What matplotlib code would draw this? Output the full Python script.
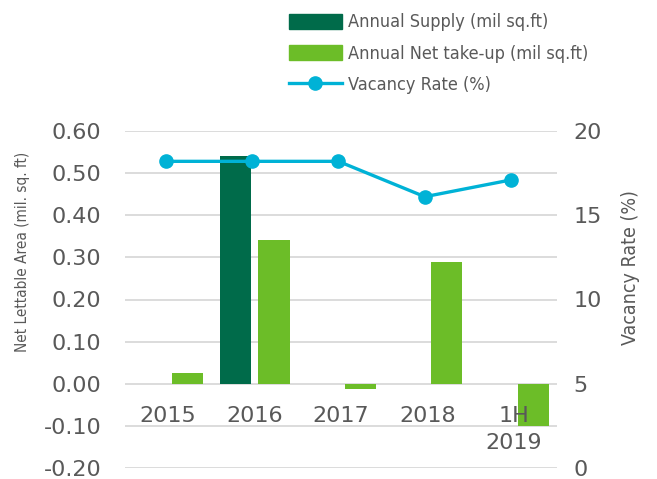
import matplotlib
matplotlib.use("Agg")
import matplotlib.pyplot as plt
import numpy as np
from matplotlib.lines import Line2D
from matplotlib.patches import Patch
from matplotlib.font_manager import FontProperties

categories = ["2015", "2016", "2017", "2018", "1H\n2019"]
annual_supply = [0.0, 0.54, 0.0, 0.0, 0.0]
net_takeup = [0.025, 0.342, -0.012, 0.29, -0.10]
vacancy_rate = [18.2, 18.2, 18.2, 16.1, 17.1]
left_ticks = [-0.20, -0.10, 0.00, 0.10, 0.20, 0.30, 0.40, 0.50, 0.60]
right_ticks = [0, 5, 10, 15, 20]

C_SUPPLY = "#006B4A"
C_NET = "#6CBD28"
C_LINE = "#00B2D6"
GRAY = "#595959"
TICK_FONT = "DejaVu Sans"

def narrow(size):
    return FontProperties(family="DejaVu Sans", stretch="condensed", size=size)

fig = plt.figure(figsize=(6.57, 4.79), dpi=100)
ax = fig.add_axes([125/657, 1-468/479, (557-125)/657, (468-131)/479])
ax2 = ax.twinx()

x = np.arange(len(categories))
w = 0.36
off = 0.225
ax.bar(x - off, annual_supply, width=w, color=C_SUPPLY, zorder=3)
ax.bar(x + off, net_takeup, width=w, color=C_NET, zorder=3)
ax2.plot(x - 0.03, vacancy_rate, color=C_LINE, lw=2.4, marker="o", ms=9.5, zorder=4)

ax.set_xlim(-0.5, len(categories) - 0.5)
ax.set_ylim(-0.2, 0.6)
ax.set_yticks(left_ticks)
ax.set_yticklabels([f"{t:.2f}" for t in left_ticks], fontsize=16, color=GRAY, family=TICK_FONT)
ax.grid(axis="y", color="#D9D9D9", lw=1.3, zorder=0)
ax.set_axisbelow(True)
ax.set_xticks([])
ax.tick_params(axis="y", length=0, pad=17)

ax2.set_ylim(0, 20)
ax2.set_yticks(right_ticks)
ax2.set_yticklabels([str(t) for t in right_ticks], fontsize=16, color=GRAY, family=TICK_FONT)
ax2.tick_params(axis="y", length=0, pad=12)

for a in (ax, ax2):
    for s in a.spines.values():
        s.set_visible(False)

for xi, lab in zip(x, categories):
    ax.text(xi, -0.052, lab, ha="center", va="top", fontsize=16, color=GRAY,
            family=TICK_FONT, linespacing=1.45, zorder=5)

fig.text(23/657, 1-252/479, "Net Lettable Area (mil. sq. ft)", rotation=90, ha="center",
         va="center", color=GRAY, fontproperties=narrow(11))
fig.text(630/657, 1-268/479, "Vacancy Rate (%)", rotation=90, ha="center",
         va="center", color=GRAY, fontproperties=narrow(14))

handles = [Patch(color=C_SUPPLY), Patch(color=C_NET),
           Line2D([], [], color=C_LINE, lw=2.4, marker="o", ms=9.5)]
labels = ["Annual Supply (mil sq.ft)", "Annual Net take-up (mil sq.ft)", "Vacancy Rate (%)"]
fig.legend(handles, labels, loc="upper left", bbox_to_anchor=(273/657, 1.0 + 3/479), frameon=False,
           prop=narrow(13), labelcolor=GRAY, handlelength=2.9,
           handleheight=0.9, labelspacing=0.75, handletextpad=0.35)

fig.savefig("out.png", dpi=100)
